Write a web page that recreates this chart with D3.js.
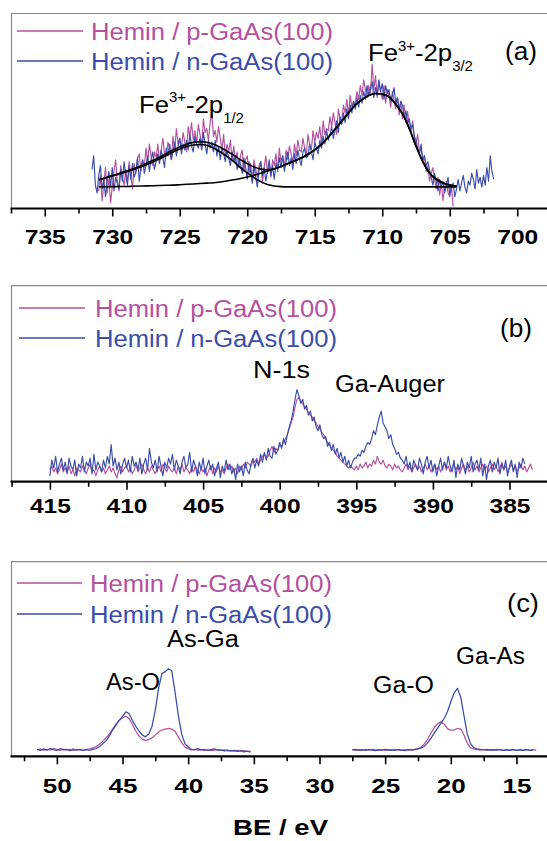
<!DOCTYPE html>
<html><head><meta charset="utf-8">
<script src="https://cdn.jsdelivr.net/npm/d3@7"></script>
<style>body{margin:0;background:#fff}svg{display:block}</style>
</head><body>
<svg id="chart" width="547" height="841"></svg>
<script>
const FONT = '"Liberation Sans", Arial, Helvetica, sans-serif';
const PINK = "#B4509F", BLUE = "#3A4DAA";
const seriesNames = ["Hemin / p-GaAs(100)", "Hemin / n-GaAs(100)"];
const xTitle = "BE / eV";

// ---------- Panel (a): Fe 2p ----------
const aTicks = [735, 730, 725, 720, 715, 710, 705, 700];
const aMinor = [737.5, 732.5, 727.5, 722.5, 717.5, 712.5, 707.5, 702.5, 697.5];
const aPinkStart = 731.0, aPinkStep = 0.125;
const aPink = [
  9,17,4,13,21,8,15,3, 11,19,25,14,9,22,16,12, 20,13,24,17,10,23,18,26, 28,19,25,21,31,24,33,27,
  22,29,26,33,24,30,36,28, 27,34,31,25,37,30,41,33, 36,31,39,34,29,42,37,44, 35,40,33,43,38,31,46,39,
  41,35,44,49,37,40,34,42, 36,30,38,27,33,29,35,25, 32,24,29,21,27,30,19,25, 27,18,23,14,25,20,16,22,
  24,13,21,27,18,23,16,25, 22,28,19,31,24,27,21,30, 25,32,28,23,33,27,35,30, 29,36,31,27,38,33,30,40,
  34,39,36,42,33,45,38,41, 40,47,42,49,44,38,51,46, 45,53,49,56,48,58,52,55, 53,60,56,63,58,66,61,57,
  63,59,74,61,68,57,65,60, 56,63,54,61,58,52,60,55, 51,57,48,55,46,53,44,50, 42,39,45,36,33,38,29,31,
  24,27,19,22,14,18,21,15, 10,16,7,13,4,11,14,8, 6,12,1];
const aBlueStart = 731.5, aBlueStep = 0.125;
const aBlue = [
  20,27,12,8,17,22,10,15, 6,14,19,11,21,9,16,13, 10,20,14,24,17,12,22,15, 23,16,19,26,14,21,25,18,
  22,27,19,25,29,20,24,28, 23,30,26,21,31,27,33,25, 29,34,27,32,36,28,33,30, 35,30,38,32,29,37,33,31,
  36,30,39,33,28,35,31,34, 29,35,27,32,25,31,28,24, 30,26,22,29,24,27,20,25, 23,18,26,21,15,24,19,13,
  22,16,11,20,24,17,21,14, 19,25,17,22,15,23,20,26, 21,27,19,24,29,22,26,20, 28,23,30,25,22,29,31,26,
  27,33,29,25,34,31,28,35, 31,37,33,40,35,38,42,36, 40,45,39,47,43,49,44,51, 46,53,49,55,51,57,52,58,
  54,60,56,63,58,61,65,57, 62,58,66,60,64,56,63,59, 61,55,58,62,54,57,51,55, 53,47,50,44,46,41,43,37,
  35,31,28,33,25,27,22,24, 20,16,12,18,14,9,15,11, 14,8,12,16,7,11,13,6, 10,15,9,13,17,11,8,14,
  12,18,15,10,20,13,16,11, 17,12,21,14,27,19,15];
const aFitStart = 731.0, aFitStep = 0.5;
const aEnvelope = [14.8,15.8,16.9,18.0,19.1,20.3,21.6,23.0,24.6,26.3,28.1,30.0,31.6,33.0,33.9,34.3,34.0,33.0,31.4,29.4,
  27.3,25.0,23.0,21.3,20.2,19.8,20.4,21.6,23.1,24.4,25.9,27.8,30.1,32.9,36.5,40.6,44.8,49.0,53.0,55.8,58.0,59.0,58.6,
  57.3,53.5,48.5,41.0,32.0,24.0,18.2,15.0,13.1,12.0,11.4];
const aComp12 = [14.6,15.6,16.6,17.6,18.7,19.8,21.0,22.3,23.8,25.5,27.2,29.0,30.5,31.8,32.6,32.8,32.4,31.0,29.0,26.7,
  24.0,21.0,18.3,15.8,13.8,12.3,11.5,11.2,11.1,11.1,11.1,11.1,11.1,11.1,11.1,11.1,11.1,11.1,11.1,11.1,11.1,11.1,11.1,
  11.1,11.1,11.1,11.1,11.1,11.1,11.1,11.1,11.1,11.1,11.0];
const aComp32 = [11.1,11.15,11.2,11.25,11.3,11.4,11.5,11.6,11.7,11.8,11.9,12.0,12.2,12.4,12.6,12.8,13.0,13.2,13.6,14.1,
  14.7,15.4,16.2,17.1,18.1,19.2,20.3,21.5,23.0,24.4,25.9,27.8,30.1,32.9,36.5,40.6,44.8,49.0,53.0,55.8,58.0,59.0,58.6,
  57.3,53.5,48.5,41.0,32.0,24.0,18.2,15.0,13.1,12.0,11.4];

// ---------- Panel (b): N 1s ----------
const bTicks = [415, 410, 405, 400, 395, 390, 385];
const bMinor = [417.5, 412.5, 407.5, 402.5, 397.5, 392.5, 387.5, 382.5];
const bPinkStart = 415.0, bPinkStep = 0.125;
const bPink = [
  6,8,5,7,4,6,9,5, 7,5,8,4,6,3,7,6, 5,8,6,4,7,9,5,6, 3,6,8,5,7,4,6,8, 5,7,4,2,6,8,5,7, 8,5,7,4,6,9,5,7,
  9,6,4,7,5,8,6,4, 6,8,5,9,7,5,8,6, 5,7,4,8,6,9,5,7, 6,4,7,5,8,6,4,7, 5,7,3,6,8,4,7,5, 8,5,6,4,7,9,6,8,
  5,7,4,8,6,9,7,10, 9,8,11,10,12,9,11,13, 14,12,13,16,18,15,17,16, 19,18,20,22,24,27,30,33,
  38,42,43,41,40,38,37,35, 34,33,31,30,28,27,25,24, 22,20,19,17,16,15,13,12, 11,10,9,8,7,8,7,6,
  8,6,9,7,8,10,7,9, 8,11,9,13,10,9,11,8, 7,9,8,6,9,7,8,6, 5,7,9,6,8,5,7,9, 6,8,5,7,9,6,8,5,
  7,9,6,8,5,7,10,6, 8,5,7,9,6,8,4,7, 9,6,8,5,7,10,6,8, 5,7,9,6,8,5,7,9, 6,8,5,7,10,6,8,5,
  7,9,6,8,5,7,9,6, 8,5,7,9,6];
const bBlueStart = 415.0, bBlueStep = 0.125;
const bBlue = [
  3,11,7,13,5,9,12,6, 10,4,12,8,6,11,3,9, 7,13,5,10,8,12,4,14, 6,10,8,5,11,7,13,9, 19,8,12,6,10,4,9,12,
  7,11,5,13,8,10,6,12, 4,9,12,6,17,10,7,11, 5,13,8,3,10,7,12,9, 14,6,11,8,4,10,13,7, 9,15,5,11,8,3,10,6,
  12,4,8,11,6,9,3,7, 10,2,8,5,11,6,9,4, 7,1,9,5,8,3,10,6, 4,9,12,7,11,8,14,10, 15,11,17,13,12,18,14,16,
  20,17,22,19,24,28,31,36, 42,47,44,40,42,37,39,34, 36,31,33,28,26,29,24,22, 23,18,20,16,19,14,17,12,
  15,10,13,8,11,7,10,12, 12,14,13,16,15,18,20,19, 22,26,24,29,33,36,30,28, 26,22,24,19,17,14,15,12,
  11,9,13,7,10,5,11,8, 6,12,9,4,10,13,7,11, 5,9,3,8,12,6,10,7, 13,8,5,11,2,9,6,12, 8,4,10,7,13,5,9,11,
  6,12,3,9,1,8,11,5, 10,7,12,4,9,6,11,3, 8,11,5,9,2,10,7,12, 9];

// ---------- Panel (c): As 3d / Ga 3d ----------
const cTicks = [50, 45, 40, 35, 30, 25, 20, 15];
const cMinor = [52.5, 47.5, 42.5, 37.5, 32.5, 27.5, 22.5, 17.5, 12.5];
const cAsStart = 51.5, cGaStart = 27.5, cStep = 0.25;
const cPinkAs = [3.2,3.8,3.1,3.6,3.3,3.9,3.4,3.0,3.7,3.2,3.5,3.1,3.6,3.3,3.0,3.5,3.8,4.3,5.0,
  6.2,7.8,9.5,11.5,14.0,16.5,18.5,19.8,20.6,19.5,16.5,13.0,10.5,8.8,8.2,8.6,9.5,11.0,12.5,13.5,14.0,14.3,14.0,12.8,10.0,7.0,4.8,3.8,
  3.3,3.6,3.1,3.4,3.0,3.3,2.9,3.2,3.5,3.0,3.3,2.8,3.1,2.7,3.0,2.6,2.9,2.5,2.7];
const cBlueAs = [3.5,3.0,3.8,3.2,4.0,3.4,3.1,3.9,3.3,3.6,2.9,3.7,3.2,3.5,3.0,3.4,3.1,3.6,4.0,
  5.0,6.5,8.0,10.5,13.5,16.0,18.5,20.5,22.8,22.0,18.5,15.5,13.0,11.0,10.0,11.5,15.5,24.0,35.0,42.5,43.5,45.0,44.0,33.0,21.0,11.5,6.5,4.8,
  3.6,3.4,3.9,3.3,3.5,3.0,3.4,3.8,3.1,3.3,2.8,3.2,2.7,3.0,2.5,2.9,2.3,2.6,2.2];
const cPinkGa = [3.6,3.1,3.4,3.0,3.5,3.2,3.6,3.3,3.0,3.4,3.1,3.5,3.2,3.6,3.3,3.0,3.4,3.2,3.6,3.4,3.9,
  4.8,6.5,9.0,12.0,14.8,16.8,17.7,16.5,14.2,13.4,13.6,14.3,14.0,11.0,6.8,4.5,3.7,3.4,
  3.2,3.5,3.1,3.4,3.2,3.6,3.3,3.0,3.4,3.2,3.5,3.1,3.4,3.2,3.5,3.1,3.4,3.2];
const cBlueGa = [3.2,3.6,3.0,3.4,3.1,3.5,3.2,2.9,3.4,3.1,3.6,3.0,3.3,3.1,3.5,3.2,2.9,3.4,3.2,3.5,3.8,
  4.3,5.2,7.0,9.5,12.0,14.5,17.0,19.5,23.0,28.0,32.5,34.9,30.5,21.0,11.5,6.5,4.5,3.8,
  3.5,3.3,3.6,3.1,3.4,3.2,3.5,3.0,3.3,3.1,3.4,3.0,3.3,3.1,3.4,3.0,3.2];

// ---------- helpers ----------
const svg = d3.select("#chart");
function pts(start, step, vals) { return vals.map((v, i) => [start - i * step, v]); }

function addText(g, str, x, y, opt) {
  const t = g.append("text").attr("x", x).attr("y", y)
    .attr("font-family", FONT).attr("font-size", opt.size)
    .attr("font-weight", opt.bold ? "bold" : "normal")
    .attr("fill", opt.color || "#000")
    .attr("text-anchor", opt.anchor || "start")
    .text(str);
  if (opt.len) t.attr("textLength", opt.len).attr("lengthAdjust", "spacingAndGlyphs");
  return t;
}

function drawPanel(p) {
  const g = svg.append("g");
  const x = d3.scaleLinear().domain(p.xDomain).range(p.xRange);
  const y = d3.scaleLinear().domain([0, 100]).range([p.axisY, p.top]);
  const right = 560;
  g.append("path").attr("d", `M${p.left},${p.axisY} V${p.top} H${right}`)
    .attr("fill", "none").attr("stroke", "#8a8a8a").attr("stroke-width", 1.2);
  g.append("g").attr("transform", `translate(0,${p.axisY})`)
    .call(d3.axisBottom(x).tickValues(p.minor).tickSize(5).tickFormat(""))
    .call(s => s.select(".domain").remove())
    .selectAll("line").attr("stroke", "#000").attr("stroke-width", 1.6);
  const ax = g.append("g").attr("transform", `translate(0,${p.axisY})`)
    .call(d3.axisBottom(x).tickValues(p.majors).tickSize(8).tickPadding(0).tickFormat(d => d));
  ax.select(".domain").remove();
  ax.selectAll("line").attr("stroke", "#000").attr("stroke-width", 1.6);
  ax.selectAll("text").attr("font-family", FONT).attr("font-size", 19.5).attr("font-weight", "bold")
    .attr("fill", "#000").attr("y", p.labelDy).attr("dy", 0)
    .attr("textLength", d => String(d).length === 3 ? 41 : 29).attr("lengthAdjust", "spacingAndGlyphs");
  g.append("line").attr("x1", p.left - 1).attr("x2", right).attr("y1", p.axisY).attr("y2", p.axisY)
    .attr("stroke", "#000").attr("stroke-width", 2.2);

  const line = d3.line().x(d => x(d[0])).y(d => y(d[1]));
  p.series.forEach(s => {
    s.segments.forEach(seg => {
      g.append("path").datum(seg).attr("d", line).attr("fill", "none")
        .attr("stroke", s.color).attr("stroke-width", p.lw).attr("stroke-linejoin", "round");
    });
  });
  if (p.fits) {
    const fl = d3.line().x(d => x(d[0])).y(d => y(d[1])).curve(d3.curveMonotoneX);
    p.fits.forEach(f => g.append("path").datum(f).attr("d", fl).attr("fill", "none")
      .attr("stroke", "#000").attr("stroke-width", 1.6));
  }
  p.legend.forEach(L => {
    g.append("line").attr("x1", L.x1).attr("x2", L.x2).attr("y1", L.y).attr("y2", L.y)
      .attr("stroke", L.color).attr("stroke-width", 1.4);
    addText(g, L.name, L.tx, L.y + 8.5, { size: 23, color: L.color, len: 242 });
  });
  addText(g, p.label.text, p.label.x, p.label.y, { size: 26, anchor: "middle", len: 32 });
  p.notes.forEach(n => {
    if (n.sup) {
      const t = g.append("text").attr("transform", `translate(${n.x},${n.y}) scale(1.07,1)`)
        .attr("font-family", FONT).attr("font-size", 24).attr("fill", "#000");
      t.append("tspan").text(n.text);
      t.append("tspan").attr("font-size", 14).attr("dy", -10.5).text(n.sup);
      t.append("tspan").attr("dy", 10.5).text(n.mid);
      t.append("tspan").attr("font-size", 14).attr("dy", 10).text(n.sub);
    } else {
      addText(g, n.text, n.x, n.y, { size: 23, len: n.len });
    }
  });
}

function legendRows(x1, x2, tx, y1, y2) {
  return [
    { name: seriesNames[0], color: PINK, x1, x2, tx, y: y1 },
    { name: seriesNames[1], color: BLUE, x1, x2, tx, y: y2 }
  ];
}

drawPanel({
  xDomain: [737.5, 697.5], xRange: [11, 551], left: 11.5, top: 13.5, axisY: 208.5, labelDy: 35.5,
  majors: aTicks, minor: aMinor, lw: 1.15,
  series: [
    { color: PINK, segments: [pts(aPinkStart, aPinkStep, aPink)] },
    { color: BLUE, segments: [pts(aBlueStart, aBlueStep, aBlue)] }
  ],
  fits: [pts(aFitStart, aFitStep, aComp12), pts(aFitStart, aFitStep, aComp32), pts(aFitStart, aFitStep, aEnvelope)],
  legend: legendRows(17, 83, 91, 31, 61),
  label: { text: "(a)", x: 521, y: 60 },
  notes: [
    { text: "Fe", sup: "3+", mid: "-2p", sub: "3/2", x: 368, y: 61 },
    { text: "Fe", sup: "3+", mid: "-2p", sub: "1/2", x: 139, y: 112.5 }
  ]
});

drawPanel({
  xDomain: [417.5, 382.5], xRange: [11.6, 547.8], left: 11.5, top: 285.7, axisY: 481.7, labelDy: 31.5,
  majors: bTicks, minor: bMinor, lw: 1.15,
  series: [
    { color: PINK, segments: [pts(bPinkStart, bPinkStep, bPink)] },
    { color: BLUE, segments: [pts(bBlueStart, bBlueStep, bBlue)] }
  ],
  legend: legendRows(19, 85, 95, 308, 338),
  label: { text: "(b)", x: 516, y: 337 },
  notes: [
    { text: "N-1s", x: 253, y: 378, len: 57 },
    { text: "Ga-Auger", x: 335, y: 391.7, len: 110 }
  ]
});

drawPanel({
  xDomain: [53.5, 12.5], xRange: [10.9, 549.3], left: 11.5, top: 561.7, axisY: 756.3, labelDy: 36.5,
  majors: cTicks, minor: cMinor, lw: 1.25,
  series: [
    { color: PINK, segments: [pts(cAsStart, cStep, cPinkAs), pts(cGaStart, cStep, cPinkGa)] },
    { color: BLUE, segments: [pts(cAsStart, cStep, cBlueAs), pts(cGaStart, cStep, cBlueGa)] }
  ],
  legend: legendRows(17, 82, 90, 583, 614),
  label: { text: "(c)", x: 523, y: 612 },
  notes: [
    { text: "As-Ga", x: 167, y: 647, len: 72 },
    { text: "As-O", x: 106, y: 690, len: 54 },
    { text: "Ga-O", x: 373, y: 693, len: 61 },
    { text: "Ga-As", x: 456, y: 664, len: 69 }
  ]
});

addText(svg, xTitle, 280.6, 835, { size: 22, bold: true, anchor: "middle", len: 95 });
</script>
</body></html>
